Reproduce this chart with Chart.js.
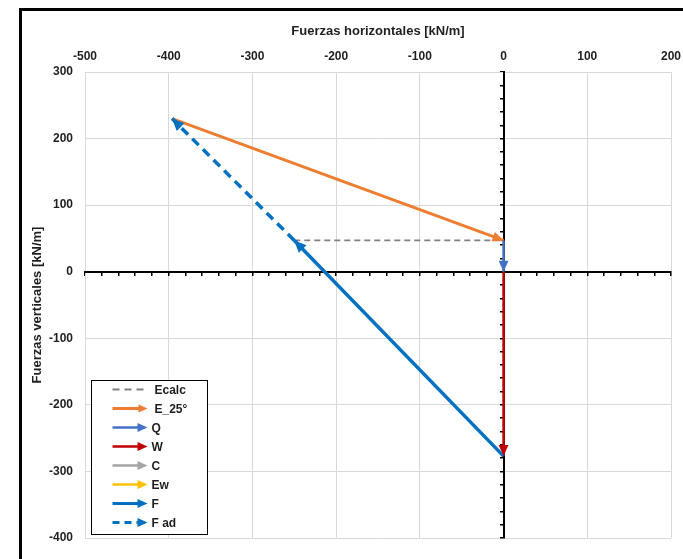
<!DOCTYPE html>
<html>
<head>
<meta charset="utf-8">
<script src="https://cdn.jsdelivr.net/npm/chart.js@4.4.1/dist/chart.umd.min.js"></script>
<style>
body { margin: 0; background: #fff; }
#wrap { position: relative; width: 683px; height: 559px; overflow: hidden; background: #fff; }
#frame { position: absolute; left: 19px; top: 8px; width: 700px; height: 600px; border-left: 3px solid #000; border-top: 3px solid #000; }
canvas { position: absolute; left: 0; top: 0; }
</style>
</head>
<body>
<div id="wrap">
  <div id="frame"></div>
  <canvas id="chart" width="683" height="559"></canvas>
</div>
<script>
// axis ranges and tick steps
const xRange = [-500, 200];
const yRange = [-400, 300];
const majorStep = 100;
const minorStep = 20;

// force vectors: start and end point of each series (kN/m)
const seriesNames = ['Ecalc', 'E_25°', 'Q', 'W', 'C', 'Ew', 'F', 'F ad'];
const ecalcX = [-250, 0];
const ecalcY = [47, 47];
const e25X = [-396, 0];
const e25Y = [230, 47];
const qX = [0, 0];
const qY = [47, 0];
const wX = [0, 0];
const wY = [0, -277];
const cX = [];
const cY = [];
const ewX = [];
const ewY = [];
const fX = [0, -250];
const fY = [-277, 47];
const fadX = [-250, -396];
const fadY = [47, 230];

const allX = [ecalcX, e25X, qX, wX, cX, ewX, fX, fadX];
const allY = [ecalcY, e25Y, qY, wY, cY, ewY, fY, fadY];

// styles
const colors = ['#808080', '#ED7D31', '#4472C4', '#C00000', '#A5A5A5', '#FFC000', '#0070C0', '#0070C0'];
const widths = [1.8, 3, 2.5, 2.5, 2.5, 2.5, 3.5, 3.5];
const dashes = [[6, 4], [], [], [], [], [], [], [9, 6]];
const arrows = [false, true, true, true, true, true, true, true];
const headSizes = [0, 11, 11, 11, 11, 11, 12, 12];

const FONT = "'Liberation Sans', Arial, sans-serif";
const TEXT = '#1f1f1f';

const datasets = seriesNames.map(function (name, i) {
    return {
        label: name,
        data: allX[i].map(function (x, k) { return { x: x, y: allY[i][k] }; }),
        showLine: true,
        borderColor: colors[i],
        backgroundColor: colors[i],
        borderWidth: widths[i],
        borderDash: dashes[i],
        pointRadius: 0,
        arrow: arrows[i],
        headSize: headSizes[i],
        order: 8 - i
    };
});

function drawHead(ctx, x1, y1, x2, y2, color, size) {
    const ang = Math.atan2(y2 - y1, x2 - x1);
    const w = size * 0.45;
    const bx = x2 - size * Math.cos(ang);
    const by = y2 - size * Math.sin(ang);
    ctx.save();
    ctx.fillStyle = color;
    ctx.beginPath();
    ctx.moveTo(x2, y2);
    ctx.lineTo(bx + w * Math.sin(ang), by - w * Math.cos(ang));
    ctx.lineTo(bx - w * Math.sin(ang), by + w * Math.cos(ang));
    ctx.closePath();
    ctx.fill();
    ctx.restore();
}

// arrowheads at the end of each vector
const arrowPlugin = {
    id: 'arrows',
    afterDatasetsDraw(chart) {
        const ctx = chart.ctx;
        chart.data.datasets.forEach(function (ds, i) {
            if (!ds.arrow) return;
            const pts = chart.getDatasetMeta(i).data;
            if (pts.length < 2) return;
            const a = pts[pts.length - 2], b = pts[pts.length - 1];
            drawHead(ctx, a.x, a.y, b.x, b.y, ds.borderColor, ds.headSize);
        });
    }
};

// boxed legend inside the plot, bottom left
const boxLegend = {
    id: 'boxLegend',
    afterDraw(chart) {
        const ctx = chart.ctx;
        const area = chart.chartArea;
        const items = chart.data.datasets;
        const rowH = 19;
        const boxW = 116, boxH = 154;
        const left = Math.round(area.left + 6) + 0.5;
        const top = Math.round(area.bottom - 4 - boxH) + 0.5;
        ctx.save();
        ctx.fillStyle = '#fff';
        ctx.fillRect(left, top, boxW, boxH);
        ctx.strokeStyle = '#000';
        ctx.lineWidth = 1;
        ctx.strokeRect(left, top, boxW, boxH);
        items.forEach(function (ds, i) {
            const y = top + 9 + i * rowH;
            const x1 = left + 21, x2 = left + 56;
            ctx.strokeStyle = ds.borderColor;
            ctx.lineWidth = Math.min(ds.borderWidth, 3);
            ctx.setLineDash(ds.borderDash.length ? [7, 5] : []);
            ctx.beginPath();
            ctx.moveTo(x1, y);
            ctx.lineTo(ds.arrow ? x2 - 6 : x2, y);
            ctx.stroke();
            ctx.setLineDash([]);
            if (ds.arrow) drawHead(ctx, x1, y, x2, y, ds.borderColor, i === 1 ? 9 : 10);
            ctx.fillStyle = TEXT;
            ctx.font = 'bold 12px ' + FONT;
            ctx.textBaseline = 'middle';
            ctx.textAlign = 'left';
            ctx.fillText(ds.label, (i < 2 ? left + 63 : left + 60), y + 1);
        });
        ctx.restore();
    }
};

function noPadX(scale) { scale.paddingLeft = 0; scale.paddingRight = 0; }
function noPadY(scale) { scale.paddingTop = 0; scale.paddingBottom = 0; }

new Chart(document.getElementById('chart'), {
    type: 'scatter',
    data: { datasets: datasets },
    options: {
        responsive: false,
        animation: false,
        layout: { padding: { left: 22, right: 12, top: 14, bottom: 21 } },
        plugins: {
            legend: { display: false },
            tooltip: { enabled: false }
        },
        scales: {
            x: {
                type: 'linear',
                position: 'top',
                min: xRange[0],
                max: xRange[1],
                ticks: { stepSize: majorStep, padding: 8, color: TEXT, font: { family: FONT, size: 12, weight: 'bold' } },
                grid: { color: '#d9d9d9', lineWidth: 1, drawTicks: false },
                border: { color: '#d9d9d9' },
                title: { display: true, text: 'Fuerzas horizontales [kN/m]', color: TEXT, padding: { top: 10, bottom: 0 }, font: { family: FONT, size: 13, weight: 'bold' } },
                afterFit: function (scale) { scale.height = 58; noPadX(scale); }
            },
            y: {
                type: 'linear',
                position: 'left',
                min: yRange[0],
                max: yRange[1],
                ticks: { stepSize: majorStep, padding: 12, color: TEXT, font: { family: FONT, size: 12, weight: 'bold' } },
                grid: { color: '#d9d9d9', lineWidth: 1, drawTicks: false },
                border: { color: '#d9d9d9' },
                title: { display: true, text: 'Fuerzas verticales [kN/m]', color: TEXT, padding: { top: 8, bottom: 0 }, font: { family: FONT, size: 13, weight: 'bold' } },
                afterFit: function (scale) { scale.width = 63; noPadY(scale); }
            },
            // black cross axes through the origin with minor tick marks
            x0: {
                type: 'linear',
                axis: 'x',
                position: { y: 0 },
                min: xRange[0],
                max: xRange[1],
                ticks: { display: false, stepSize: minorStep, autoSkip: false },
                grid: { drawOnChartArea: false, drawTicks: true, tickLength: 3, color: '#000', lineWidth: 1.5 },
                border: { color: '#000', width: 2 },
                afterFit: noPadX
            },
            y0: {
                type: 'linear',
                axis: 'y',
                position: { x: 0 },
                min: yRange[0],
                max: yRange[1],
                ticks: { display: false, stepSize: minorStep, autoSkip: false },
                grid: { drawOnChartArea: false, drawTicks: true, tickLength: 3, color: '#000', lineWidth: 1.5 },
                border: { color: '#000', width: 2 },
                afterFit: noPadY
            }
        }
    },
    plugins: [arrowPlugin, boxLegend]
});
</script>
</body>
</html>
